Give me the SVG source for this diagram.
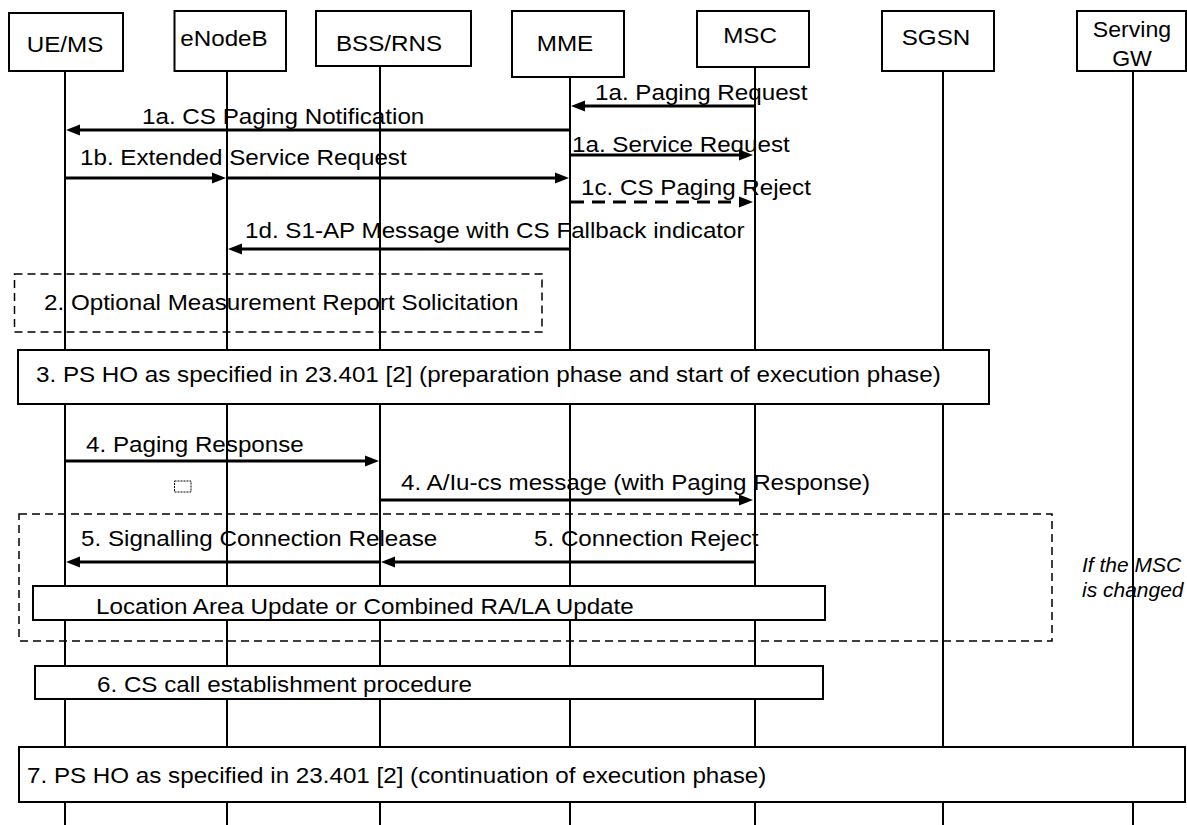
<svg xmlns="http://www.w3.org/2000/svg" width="1187" height="825" viewBox="0 0 1187 825">
<style>
.t{font-family:"Liberation Sans",Arial,sans-serif;font-size:22px;fill:#000}
.m{text-anchor:middle}
.it{font-family:"Liberation Sans",Arial,sans-serif;font-size:20px;font-style:italic;fill:#000}
.hdr{fill:#fff;stroke:#000;stroke-width:2}
.life{stroke:#000;stroke-width:2}
.box{fill:#fff;stroke:#000;stroke-width:2}
.dbox{fill:none;stroke:#000;stroke-width:1.5;stroke-dasharray:8 5}
.msg{stroke:#000;stroke-width:3;fill:none;marker-end:url(#ah)}
.dmsg{stroke-dasharray:13 8}
</style>
<defs>
<marker id="ah" markerUnits="userSpaceOnUse" markerWidth="14" markerHeight="11" refX="0" refY="5.5" orient="auto" overflow="visible">
<path d="M0,0 L14,5.5 L0,11 z" fill="#000"/>
</marker>
</defs>
<rect width="1187" height="825" fill="#fff"/>
<g id="lifelines">
<line class="life" x1="65" y1="71" x2="65" y2="825"/>
<line class="life" x1="227" y1="71" x2="227" y2="825"/>
<line class="life" x1="380" y1="66" x2="380" y2="825"/>
<line class="life" x1="570" y1="77" x2="570" y2="825"/>
<line class="life" x1="755" y1="67" x2="755" y2="825"/>
<line class="life" x1="943" y1="71" x2="943" y2="825"/>
<line class="life" x1="1133" y1="71" x2="1133" y2="825"/>
</g>
<g id="ue"><rect class="hdr" x="9" y="13" width="114" height="58"/><text class="t m" transform="translate(65,51.5) scale(1.1,1)">UE/MS</text></g>
<g id="enodeb"><rect class="hdr" x="174.5" y="11" width="111.5" height="60"/><text class="t m" transform="translate(224,46) scale(1.1,1)">eNodeB</text></g>
<g id="bss"><rect class="hdr" x="316" y="11" width="155" height="55"/><text class="t m" transform="translate(389,51) scale(1.1,1)">BSS/RNS</text></g>
<g id="mme"><rect class="hdr" x="512" y="11" width="112" height="66"/><text class="t m" transform="translate(565,51) scale(1.1,1)">MME</text></g>
<g id="msc"><rect class="hdr" x="697" y="11" width="112" height="56"/><text class="t m" transform="translate(750,43) scale(1.1,1)">MSC</text></g>
<g id="sgsn"><rect class="hdr" x="882" y="11" width="112" height="60"/><text class="t m" transform="translate(936,45) scale(1.1,1)">SGSN</text></g>
<g id="sgw"><rect class="hdr" x="1077" y="11" width="109" height="60"/><text class="t m" transform="translate(1132,37) scale(1.05,1)"><tspan x="0" y="0">Serving</tspan><tspan x="0" y="29">GW</tspan></text></g>
<g id="step2"><rect class="dbox" x="14.5" y="274" width="527.5" height="58"/><text class="t" transform="translate(44,310) scale(1.1,1)">2. Optional Measurement Report Solicitation</text></g>
<g id="step3"><rect class="box" x="18" y="350" width="971" height="54"/><text class="t" transform="translate(36,382) scale(1.1,1)">3. PS HO as specified in 23.401 [2] (preparation phase and start of execution phase)</text></g>
<g id="step5"><rect class="dbox" x="19" y="514" width="1033" height="127"/><text class="it" transform="translate(1082,572) scale(1.05,1)"><tspan x="0" y="0">If the MSC</tspan><tspan x="0" y="25">is changed</tspan></text></g>
<g id="lau"><rect class="box" x="33" y="586" width="792" height="34"/><text class="t" transform="translate(96,614) scale(1.1,1)">Location Area Update or Combined RA/LA Update</text></g>
<g id="step6"><rect class="box" x="35" y="666" width="788" height="33"/><text class="t" transform="translate(97,692) scale(1.1,1)">6. CS call establishment procedure</text></g>
<g id="step7"><rect class="box" x="19" y="747" width="1166" height="55"/><text class="t" transform="translate(27,783) scale(1.1,1)">7. PS HO as specified in 23.401 [2] (continuation of execution phase)</text></g>
<g id="marker-rect"><rect x="174.5" y="481" width="16.5" height="11" fill="none" stroke="#000" stroke-width="1" stroke-dasharray="2 1"/></g>
<g id="connectors">
<line class="msg" x1="755" y1="106" x2="585" y2="106"/>
<line class="msg" x1="570" y1="130" x2="80" y2="130"/>
<line class="msg" x1="570" y1="155" x2="739" y2="155"/>
<line class="msg" x1="65" y1="178" x2="212" y2="178"/>
<line class="msg" x1="227" y1="178" x2="555" y2="178"/>
<line class="msg dmsg" x1="571" y1="202" x2="739" y2="202"/>
<line class="msg" x1="570" y1="249" x2="242" y2="249"/>
<line class="msg" x1="65" y1="461" x2="365" y2="461"/>
<line class="msg" x1="380" y1="500" x2="739" y2="500"/>
<line class="msg" x1="755" y1="562" x2="395" y2="562"/>
<line class="msg" x1="380" y1="562" x2="80" y2="562"/>
</g>
<g id="labels">
<text class="t" transform="translate(595,100) scale(1.1,1)">1a. Paging Request</text>
<text class="t" transform="translate(142,124) scale(1.1,1)">1a. CS Paging Notification</text>
<text class="t" transform="translate(572,152) scale(1.1,1)">1a. Service Request</text>
<text class="t" transform="translate(80,165) scale(1.1,1)">1b. Extended Service Request</text>
<text class="t" transform="translate(581,195) scale(1.1,1)">1c. CS Paging Reject</text>
<text class="t" transform="translate(245,238) scale(1.1,1)">1d. S1-AP Message with CS Fallback indicator</text>
<text class="t" transform="translate(86,452) scale(1.1,1)">4. Paging Response</text>
<text class="t" transform="translate(401,490) scale(1.1,1)">4. A/Iu-cs message (with Paging Response)</text>
<text class="t" transform="translate(81,546) scale(1.1,1)">5. Signalling Connection Release</text>
<text class="t" transform="translate(534,546) scale(1.1,1)">5. Connection Reject</text>
</g>
</svg>
